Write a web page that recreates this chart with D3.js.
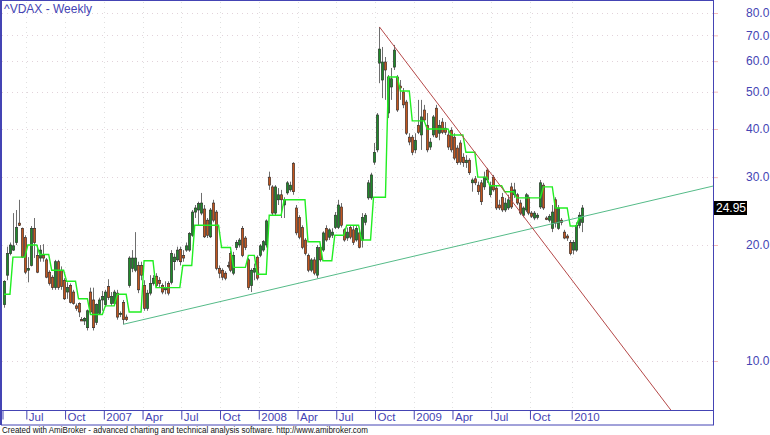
<!DOCTYPE html>
<html><head><meta charset="utf-8">
<script src="https://cdn.jsdelivr.net/npm/d3@7"></script>
<style>html,body{margin:0;padding:0;background:#fff;overflow:hidden}svg{display:block}</style>
</head><body>
<script>
// ^VDAX weekly bars (bar 0 = week of 12 May 2006)
const openV = [
14.0,16.7,19.0,19.4,20.3,22.8,22.1,20.9,17.2,17.7,
22.1,18.8,18.5,18.8,18.3,17.0,16.5,15.5,18.1,17.2,
16.2,15.1,15.7,15.1,13.9,14.1,12.8,12.7,12.2,15.1,
14.4,12.6,13.3,14.4,14.0,15.6,14.1,14.1,15.0,13.2,
14.2,13.0,15.7,17.4,17.2,17.7,17.7,15.7,13.7,15.0,
15.9,16.6,16.2,15.7,15.3,15.9,16.0,18.1,18.3,19.5,
18.8,19.4,19.4,21.2,24.35,24.65,24.2,24.8,23.2,21.0,
25.7,24.35,17.4,17.2,16.9,17.7,19.0,16.9,19.7,20.0,
22.1,20.85,18.3,15.7,17.0,18.6,18.8,19.4,20.0,30.0,
28.3,24.2,26.2,27.0,25.4,27.3,27.8,32.6,24.95,23.6,
22.2,20.6,18.8,17.2,18.3,16.7,19.7,19.4,22.1,20.95,
21.2,22.2,22.2,25.1,21.9,20.85,22.2,21.9,20.6,21.5,
20.6,22.9,26.5,26.5,32.8,35.3,59.3,53.6,59.7,44.0,
51.4,57.9,54.6,51.7,49.9,47.0,38.1,38.1,35.3,40.9,
38.6,44.8,40.9,35.9,38.6,45.3,39.0,41.7,40.2,38.6,
39.7,38.1,35.7,36.8,33.8,32.7,33.2,29.0,29.7,28.6,
29.0,28.3,31.3,27.0,30.0,28.1,25.4,26.6,24.65,24.95,
28.3,27.0,27.0,25.7,23.9,24.65,26.6,24.2,23.5,23.6,
25.1,28.6,23.5,23.2,22.1,26.2,22.1,23.2,21.6,21.1,
20.3,19.4,19.4,22.5,22.9];
const highV = [
16.2,19.8,20.3,24.2,24.65,26.2,22.2,21.2,18.6,22.4,
23.5,20.0,20.0,20.1,18.5,17.2,16.7,18.3,18.3,17.6,
16.4,16.0,15.9,15.3,14.1,14.2,13.0,13.0,13.6,15.5,
15.5,14.1,14.6,15.2,15.3,16.3,15.1,15.3,15.3,13.45,
14.4,13.2,18.7,19.4,21.6,18.1,18.1,16.2,15.3,16.7,
16.7,16.9,16.5,15.9,16.1,16.1,19.4,19.0,19.8,19.8,
19.4,20.3,21.6,24.65,25.4,25.9,27.3,25.4,23.5,24.95,
26.2,24.65,17.7,17.4,17.1,18.1,19.3,19.2,20.6,20.85,
22.4,21.1,18.5,17.4,17.9,18.8,20.1,20.6,23.3,31.0,
28.6,28.6,28.1,27.8,26.6,29.3,29.2,32.8,25.4,23.9,
22.5,20.85,19.0,18.5,18.6,20.0,20.0,21.7,22.5,22.1,
22.1,24.35,26.2,25.7,22.1,22.2,22.5,22.5,22.4,21.9,
24.2,24.2,29.5,30.8,36.8,44.0,73.6,65.3,61.5,55.2,
57.6,66.1,55.2,53.6,51.1,47.6,39.0,38.6,39.0,47.6,
47.6,46.2,44.0,37.9,43.5,46.2,42.2,42.7,41.7,39.7,
40.4,39.0,36.3,37.4,34.6,34.2,33.6,29.8,30.2,29.2,
29.5,31.0,31.7,29.2,30.4,28.6,26.2,27.3,26.5,27.0,
29.0,29.0,27.3,26.2,25.2,27.3,27.0,24.5,24.5,24.2,
29.5,29.0,23.75,24.05,25.4,26.6,25.4,23.5,21.9,21.35,
20.6,20.6,22.9,24.35,25.4];
const lowV = [
13.75,16.2,18.8,19.3,20.0,22.4,18.5,16.8,16.0,17.6,
18.5,16.9,18.1,18.1,16.4,15.7,15.3,15.3,15.3,15.3,
14.4,14.5,14.1,14.0,13.5,13.0,12.7,12.4,12.0,13.2,
12.0,12.4,13.2,13.5,13.8,14.4,13.9,14.0,12.8,13.0,
12.45,12.7,15.5,17.0,17.0,15.0,16.2,13.5,13.5,14.8,
15.7,15.5,15.5,14.9,14.9,14.8,15.8,17.2,18.1,17.7,
18.1,19.2,19.2,21.0,23.5,22.5,23.9,20.85,20.85,20.85,
22.9,17.2,16.4,16.2,16.2,17.4,17.0,16.7,19.4,19.7,
18.6,19.4,15.3,15.1,16.2,16.2,18.6,19.2,19.7,27.8,
23.9,23.9,25.4,23.5,23.5,27.0,27.5,27.0,21.2,20.7,
19.5,18.8,17.0,17.0,16.7,16.4,18.1,19.2,20.4,20.6,
20.85,22.0,22.0,22.2,20.4,20.5,20.7,20.0,20.4,19.6,
19.7,22.5,26.2,26.2,32.3,34.8,52.6,48.1,47.6,42.7,
47.6,56.9,44.3,47.6,45.3,38.6,36.3,34.2,34.6,38.8,
35.3,41.7,34.8,35.3,38.1,37.9,37.4,38.8,38.6,35.3,
34.8,33.2,32.3,32.3,31.9,31.7,30.4,27.5,28.6,27.0,
25.4,27.8,29.0,26.6,27.5,24.65,24.65,24.35,24.35,24.65,
24.8,26.5,25.4,23.9,23.6,24.35,23.9,23.5,23.2,23.3,
24.8,24.65,23.2,22.9,21.6,22.2,21.9,22.5,20.7,20.5,
18.8,18.9,19.2,22.1,21.6];
const closeV = [
16.1,19.0,20.0,19.9,22.2,22.5,18.6,17.0,17.4,22.1,
20.3,17.0,19.4,18.5,16.5,15.9,15.5,18.1,15.5,15.6,
14.5,15.5,14.2,14.1,13.7,13.4,12.7,12.9,13.5,13.4,
12.2,14.0,14.4,14.7,15.1,14.6,14.7,15.1,13.0,13.3,
12.8,12.8,18.5,18.5,18.5,15.3,16.7,13.7,15.0,15.9,
16.4,15.7,15.9,15.1,15.5,15.0,19.0,18.6,19.4,18.1,
18.5,19.9,21.4,24.35,24.95,25.6,25.7,21.0,21.2,24.65,
23.2,17.4,16.9,16.5,16.4,17.6,17.2,18.8,20.3,20.6,
18.8,19.7,15.5,17.2,17.4,16.4,19.9,20.4,23.1,28.6,
24.2,28.3,27.0,26.2,26.2,29.0,28.6,27.5,21.5,20.95,
19.7,19.0,17.2,18.3,16.9,19.7,18.3,21.5,20.6,21.9,
21.6,23.9,25.4,22.5,20.6,21.6,20.95,20.3,22.1,19.7,
23.6,23.9,29.0,30.4,34.8,43.5,64.5,59.7,56.9,54.6,
54.0,64.1,44.8,51.1,46.2,39.0,37.0,34.8,37.4,39.2,
43.0,42.2,35.3,37.0,43.0,38.1,40.9,39.2,39.2,35.9,
35.3,33.6,32.7,32.8,32.7,33.2,30.8,29.5,29.0,27.5,
25.9,30.0,29.5,28.6,27.8,24.95,24.95,24.65,25.7,26.2,
25.1,27.8,25.7,24.2,24.95,27.0,24.2,23.75,24.2,23.9,
29.0,24.95,23.3,23.75,24.35,22.8,24.95,22.9,20.85,20.85,
19.0,20.3,22.5,23.9,24.95];
// bright green stepped indicator line
const stepLine = [
14.9,14.9,14.9,18.6,18.6,18.6,18.6,18.6,20.0,20.0,
20.0,20.0,18.9,18.9,18.9,18.9,17.2,17.2,17.2,17.2,
17.2,16.1,16.1,16.1,16.1,14.5,14.5,14.5,14.5,13.2,
13.2,13.2,13.2,13.2,13.9,13.9,13.9,13.9,14.9,14.9,
14.9,14.9,13.4,13.4,13.4,13.4,13.4,18.2,18.2,18.2,
18.2,15.5,15.5,15.5,15.5,15.5,15.5,15.5,15.5,15.5,
17.7,17.7,17.7,17.7,22.5,22.5,22.5,22.5,22.5,22.5,
22.5,22.5,22.5,19.7,19.7,19.7,19.7,17.5,17.5,17.5,
17.5,17.5,18.8,18.8,18.8,16.8,16.8,16.8,16.8,23.9,
23.9,23.9,23.9,23.9,26.2,26.2,26.2,26.2,26.2,26.2,
26.2,26.2,20.4,20.4,20.4,20.4,20.4,18.2,18.2,18.2,
18.2,21.2,21.2,21.2,21.2,22.5,22.5,22.5,22.5,22.5,
20.6,20.6,20.6,20.6,26.6,26.6,26.6,26.6,26.6,54.6,
54.6,54.6,54.6,50.2,50.2,50.2,50.2,42.0,42.0,42.0,
42.0,42.0,40.0,40.0,40.0,40.0,40.0,40.0,40.0,40.0,
38.6,38.6,38.6,38.6,38.6,34.8,34.8,34.8,34.8,30.0,
30.0,30.0,30.0,28.5,28.5,28.5,28.5,28.5,27.5,27.5,
27.5,27.5,26.5,26.5,26.5,26.5,26.5,26.5,26.5,26.5,
26.5,28.3,28.3,28.3,28.3,24.95,24.95,24.95,24.95,24.95,
22.4,22.4,22.4,23.5,23.5];
const yTickValues = [10,20,30,40,50,60,70,80];
const xTickBars = [0,8,21,34,47,60,73,86,99,112,125,138,151,164,177,191];
const xTickLabels = ["","Jul","Oct","2007","Apr","Jul","Oct","2008","Apr","Jul","Oct","2009","Apr","Jul","Oct","2010"];
const supportTrend = [{bar:40, value:12.45},{bar:238, value:28.45}];
const resistTrend = [{bar:126, value:73.6},{bar:224, value:7.42}];
const lastValue = 24.95;

const W = 770, H = 435;
const P = {left:1, top:0, right:713, bottom:410};
const BLUE = "#4444b4";
const x = d3.scaleLinear().domain([0, 238]).range([4, 4 + 2.98*238]);
const y = d3.scaleLog().domain([10, 80]).range([361, 13]);

const svg = d3.select("body").append("svg").attr("width", W).attr("height", H)
  .style("font-family", "Arial, 'Liberation Sans', sans-serif");
svg.append("rect").attr("width", W).attr("height", H).attr("fill", "#fff");

svg.append("defs").append("clipPath").attr("id", "clip")
  .append("rect").attr("x", P.left).attr("y", P.top)
  .attr("width", P.right - P.left).attr("height", P.bottom - P.top);

// grid
const grid = svg.append("g");
grid.selectAll("line.h").data(yTickValues).join("line")
  .attr("x1", P.left + 1).attr("x2", P.right)
  .attr("y1", d => Math.round(y(d)) + 0.5).attr("y2", d => Math.round(y(d)) + 0.5)
  .attr("stroke", "#e2d2da").attr("stroke-dasharray", "1,4");
grid.selectAll("line.v").data(xTickBars.slice(1)).join("line")
  .attr("x1", d => Math.round(x(d) - 1.5) + 0.5).attr("x2", d => Math.round(x(d) - 1.5) + 0.5)
  .attr("y1", 2).attr("y2", P.bottom)
  .attr("stroke", "#e0e0e0").attr("stroke-dasharray", "1,4");

const bars = d3.range(openV.length).map(i => ({i, o:openV[i], h:highV[i], l:lowV[i], c:closeV[i]}));
const plot = svg.append("g").attr("clip-path", "url(#clip)");

// wicks
plot.selectAll("line.wick").data(bars).join("line")
  .attr("x1", d => Math.round(x(d.i)) + 0.5).attr("x2", d => Math.round(x(d.i)) + 0.5)
  .attr("y1", d => y(d.h)).attr("y2", d => y(d.l))
  .attr("stroke", "#6e6e6e").attr("stroke-width", 1);
// bodies
plot.selectAll("rect.body").data(bars).join("rect")
  .attr("x", d => Math.round(x(d.i)) - 0.7)
  .attr("width", 2.4)
  .attr("y", d => y(Math.max(d.o, d.c)))
  .attr("height", d => Math.max(1, Math.abs(y(d.o) - y(d.c))))
  .attr("fill", d => d.c >= d.o ? "#1f8a2a" : "#c2561e")
  .attr("stroke", "#2b2b2b").attr("stroke-width", 0.6);

// step line
plot.append("path").datum(stepLine)
  .attr("d", d3.line().x((d, i) => x(i)).y(d => y(d)))
  .attr("fill", "none").attr("stroke", "#22ee22").attr("stroke-width", 1.4);

// trend lines
const tl = d3.line().x(d => x(d.bar)).y(d => y(d.value));
plot.append("path").datum(supportTrend).attr("d", tl)
  .attr("fill", "none").attr("stroke", "#55bb88").attr("stroke-width", 1);
plot.append("path").datum(resistTrend).attr("d", tl)
  .attr("fill", "none").attr("stroke", "#b54848").attr("stroke-width", 1);

// frame
svg.append("rect").attr("x", P.left + 0.5).attr("y", 0.5)
  .attr("width", P.right - P.left).attr("height", 425 - 0.5)
  .attr("fill", "none").attr("stroke", BLUE).attr("stroke-width", 1);
svg.append("line").attr("x1", 0.5).attr("x2", 0.5).attr("y1", 0).attr("y2", 425)
  .attr("stroke", BLUE).attr("stroke-width", 1);
svg.append("line").attr("x1", P.left).attr("x2", P.right).attr("y1", P.bottom + 0.5).attr("y2", P.bottom + 0.5)
  .attr("stroke", BLUE);

// x axis
const xAxis = d3.axisBottom(x).tickValues(xTickBars).tickFormat((d, i) => xTickLabels[i]).tickSize(9).tickSizeOuter(0);
const gx = svg.append("g").attr("transform", `translate(-1.5,${P.bottom + 0.5})`).call(xAxis);
gx.select(".domain").remove();
gx.selectAll(".tick line").attr("stroke", BLUE);
gx.selectAll(".tick text").attr("text-anchor", "start").attr("x", 2).attr("y", 2)
  .attr("fill", BLUE).style("font-size", "11.5px").style("font-family", "Arial, 'Liberation Sans', sans-serif");

// y axis
const yAxis = d3.axisRight(y).tickValues(yTickValues).tickFormat(d3.format(".1f")).tickSize(4);
const gy = svg.append("g").attr("transform", `translate(${P.right + 1},0)`).call(yAxis);
gy.select(".domain").remove();
gy.selectAll(".tick line").attr("stroke", "#f2bcbc");
gy.selectAll(".tick text").attr("x", 32).attr("fill", BLUE)
  .style("font-size", "12px").style("font-family", "Arial, 'Liberation Sans', sans-serif");

// last value label
const ly = y(lastValue);
svg.append("rect").attr("x", P.right + 1).attr("y", ly - 7).attr("width", 33).attr("height", 14).attr("fill", "#000");
svg.append("text").attr("x", P.right + 3).attr("y", ly + 4.5).attr("fill", "#fff")
  .style("font-size", "12px").text(lastValue.toFixed(2));

// title
svg.append("text").attr("x", 4).attr("y", 13).attr("fill", BLUE).style("font-size", "12px").text("^VDAX - Weekly");

// footer
svg.append("text").attr("x", 2).attr("y", 433).attr("fill", "#111").style("font-size", "8.5px")
  .attr("textLength", 366).attr("lengthAdjust", "spacingAndGlyphs")
  .text("Created with AmiBroker - advanced charting and technical analysis software. http://www.amibroker.com");
</script>
</body></html>
